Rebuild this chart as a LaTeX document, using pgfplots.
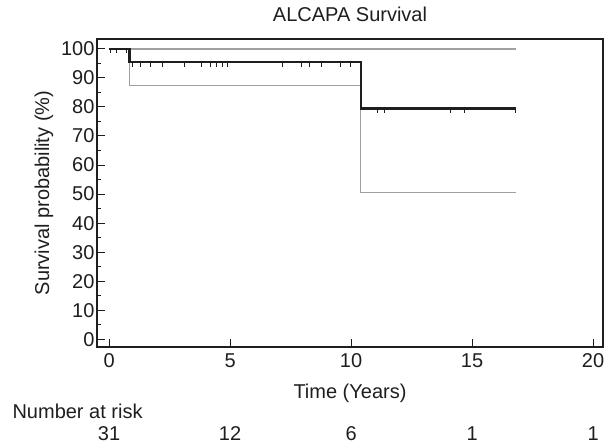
\documentclass[border=0pt]{standalone}
\usepackage{fontspec}
\setmainfont{Liberation Sans}
\usepackage{pgfplots}
\pgfplotsset{compat=1.18}
\newcommand\fs{\fontsize{20}{23}\selectfont}
% censoring tick hanging below the curve
\pgfdeclareplotmark{cens}{%
  \pgfpathmoveto{\pgfpoint{0pt}{0pt}}%
  \pgfpathlineto{\pgfpoint{0pt}{-\pgfplotmarksize}}%
  \pgfusepathqstroke}
\definecolor{kmblack}{HTML}{1E1E1E}
\definecolor{cigray}{HTML}{A0A0A0}
\begin{document}
\begin{tikzpicture}
\begin{axis}[
  scale only axis, width=506pt, height=308pt,
  xmin=-0.5, xmax=20.41, ymin=-2.65, ymax=103.4,
  axis line style={line width=2.2pt, color=kmblack},
  xtick={0,5,10,15,20}, ytick={0,10,...,100},
  minor y tick num=1,
  tick align=inside, tick pos=left,
  major tick length=8pt, minor tick length=4pt,
  tick style={line width=1pt, kmblack},
  /pgf/number format/assume math mode=true,
  every tick label/.append style={font=\fs, text=kmblack},
  xticklabel style={yshift=-3pt},
  yticklabel style={xshift=1pt},
  title={ALCAPA Survival},
  title style={font=\fs, text=kmblack, at={(axis description cs:0.5,1.062)}, anchor=center},
  xlabel={Time (Years)},
  xlabel style={font=\fs, text=kmblack, at={(axis description cs:0.5,-0.149)}, anchor=center},
  ylabel={Survival probability (\%)},
  ylabel style={font=\fs, text=kmblack, at={(axis description cs:-0.105,0.5)}, anchor=center},
  clip=false,
]
% 95% confidence limits
\addplot[const plot, cigray, line width=1.4pt] coordinates {(0,100)(16.8,100)};
\addplot[const plot, cigray, line width=1.4pt] coordinates {
 (0,100)(0.85,87.3)(10.38,50.6)(16.8,50.6)};
% Kaplan-Meier estimate
\addplot[const plot, kmblack, line width=2.4pt] coordinates {
 (0,100)(0.85,95.4)(10.41,79.5)(16.8,79.5)};
% censored observations
\addplot[only marks, mark=cens, mark size=4.5pt, kmblack, line width=1pt] coordinates {
 (0.04,100)(0.29,100)(0.70,100)
 (0.98,95.4)(1.31,95.4)(1.73,95.4)(2.21,95.4)(3.10,95.4)(3.83,95.4)(4.17,95.4)
 (4.42,95.4)(4.69,95.4)(4.88,95.4)(7.17,95.4)(7.96,95.4)(8.27,95.4)(8.79,95.4)
 (9.57,95.4)(9.96,95.4)
 (11.08,79.5)(11.36,79.5)(14.09,79.5)(14.68,79.5)(16.79,79.5)};
% number at risk
\node[font=\fs, text=kmblack, anchor=west] at (rel axis cs:0,0) [xshift=-88pt, yshift=-64pt] {Number at risk};
\node[font=\fs, text=kmblack] at (axis cs:0,-2.65) [yshift=-87pt] {31};
\node[font=\fs, text=kmblack] at (axis cs:5,-2.65) [yshift=-87pt] {12};
\node[font=\fs, text=kmblack] at (axis cs:10,-2.65) [yshift=-87pt] {6};
\node[font=\fs, text=kmblack] at (axis cs:15,-2.65) [yshift=-87pt] {1};
\node[font=\fs, text=kmblack] at (axis cs:20,-2.65) [yshift=-87pt] {1};
\end{axis}
\pgfresetboundingbox
\path ([xshift=-97pt,yshift=-97pt]current axis.south west) rectangle ([xshift=2pt,yshift=39pt]current axis.north east);
\end{tikzpicture}
\end{document}
